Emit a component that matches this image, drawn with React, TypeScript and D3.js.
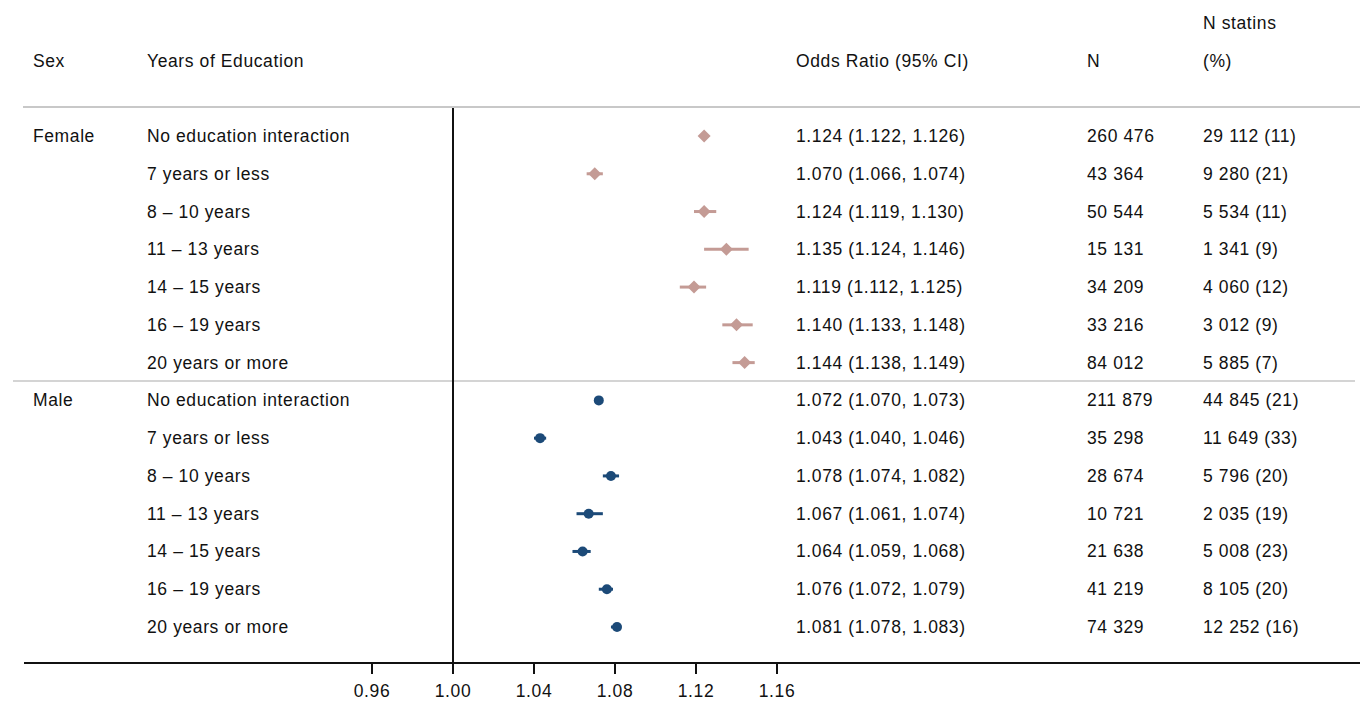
import React from "react";
import * as d3 from "d3";

const sexes = ["Female", "Male"];
const educationLevels = [
  "No education interaction",
  "7 years or less",
  "8 – 10 years",
  "11 – 13 years",
  "14 – 15 years",
  "16 – 19 years",
  "20 years or more",
];
const femaleOR = [1.124, 1.07, 1.124, 1.135, 1.119, 1.14, 1.144];
const femaleLo = [1.122, 1.066, 1.119, 1.124, 1.112, 1.133, 1.138];
const femaleHi = [1.126, 1.074, 1.13, 1.146, 1.125, 1.148, 1.149];
const femaleN = ["260 476", "43 364", "50 544", "15 131", "34 209", "33 216", "84 012"];
const femaleStatins = ["29 112 (11)", "9 280 (21)", "5 534 (11)", "1 341 (9)", "4 060 (12)", "3 012 (9)", "5 885 (7)"];
const maleOR = [1.072, 1.043, 1.078, 1.067, 1.064, 1.076, 1.081];
const maleLo = [1.07, 1.04, 1.074, 1.061, 1.059, 1.072, 1.078];
const maleHi = [1.073, 1.046, 1.082, 1.074, 1.068, 1.079, 1.083];
const maleN = ["211 879", "35 298", "28 674", "10 721", "21 638", "41 219", "74 329"];
const maleStatins = ["44 845 (21)", "11 649 (33)", "5 796 (20)", "2 035 (19)", "5 008 (23)", "8 105 (20)", "12 252 (16)"];
const xTicks = [0.96, 1.0, 1.04, 1.08, 1.12, 1.16];

const W = 1360;
const H = 702;
const FONT = "'Liberation Sans', Arial, Helvetica, sans-serif";

export default function App() {
  const x = d3.scaleLinear().domain([1.0, 1.16]).range([453, 777]);
  const y = d3.scaleLinear().domain([0, 13]).range([136, 627]);
  const fmt = d3.format(".3f");

  const rows = [
    ...educationLevels.map((lab, i) => ({
      sex: i === 0 ? sexes[0] : "",
      lab,
      or: femaleOR[i],
      lo: femaleLo[i],
      hi: femaleHi[i],
      n: femaleN[i],
      st: femaleStatins[i],
      g: 0,
    })),
    ...educationLevels.map((lab, i) => ({
      sex: i === 0 ? sexes[1] : "",
      lab,
      or: maleOR[i],
      lo: maleLo[i],
      hi: maleHi[i],
      n: maleN[i],
      st: maleStatins[i],
      g: 1,
    })),
  ];

  const fColor = "#c49b95";
  const mColor = "#1c4a78";
  const fs = 17.5;
  const ls = 0.6;
  const dh = 6.5;
  const diamond = `M0,${-dh}L${dh},0L0,${dh}L${-dh},0Z`;

  return (
    <svg width={W} height={H} style={{ position: "absolute", left: 0, top: 0, background: "#fff" }} fontFamily={FONT}>
      <rect width={W} height={H} fill="#fff" />
      <g fontSize={fs} fill="#111" letterSpacing={ls}>
        <text x={33} y={67}>Sex</text>
        <text x={147} y={67}>Years of Education</text>
        <text x={796} y={67}>Odds Ratio (95% CI)</text>
        <text x={1087} y={67}>N</text>
        <text x={1203} y={29}>N statins</text>
        <text x={1203} y={67}>(%)</text>
      </g>
      <line x1={23} x2={W} y1={107} y2={107} stroke="#c8c8c8" strokeWidth={2} />
      <line x1={13} x2={1355} y1={381} y2={381} stroke="#d4d4d4" strokeWidth={2} />
      <line x1={x(1)} x2={x(1)} y1={108} y2={663} stroke="#111" strokeWidth={2} />
      {rows.map((r, i) => {
        const cy = y(i);
        const c = r.g === 0 ? fColor : mColor;
        return (
          <g key={i}>
            <g fontSize={fs} fill="#111" letterSpacing={ls}>
              {r.sex && <text x={33} y={cy + 6}>{r.sex}</text>}
              <text x={147} y={cy + 6}>{r.lab}</text>
              <text x={796} y={cy + 6}>{`${fmt(r.or)} (${fmt(r.lo)}, ${fmt(r.hi)})`}</text>
              <text x={1087} y={cy + 6}>{r.n}</text>
              <text x={1203} y={cy + 6}>{r.st}</text>
            </g>
            <line x1={x(r.lo)} x2={x(r.hi)} y1={cy} y2={cy} stroke={c} strokeWidth={3} />
            {r.g === 0 ? (
              <path d={diamond} transform={`translate(${x(r.or)},${cy})`} fill={c} />
            ) : (
              <circle cx={x(r.or)} cy={cy} r={5} fill={c} />
            )}
          </g>
        );
      })}
      <line x1={24} x2={W} y1={663} y2={663} stroke="#111" strokeWidth={2} />
      {xTicks.map((t) => (
        <g key={t}>
          <line x1={x(t)} x2={x(t)} y1={663} y2={674} stroke="#111" strokeWidth={2} />
          <text x={x(t)} y={697} textAnchor="middle" fontSize={fs} fill="#111" letterSpacing={ls}>
            {d3.format(".2f")(t)}
          </text>
        </g>
      ))}
    </svg>
  );
}
